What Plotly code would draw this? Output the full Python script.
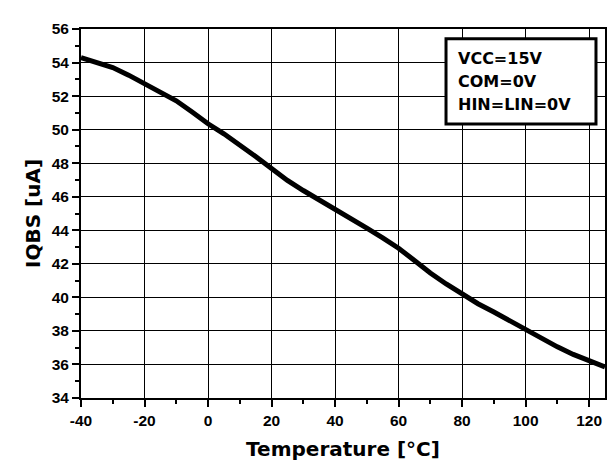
import plotly.graph_objects as go

# Data
temperature_c = [-40, -35, -30, -25, -20, -15, -10, -5, 0, 5, 10, 15, 20, 25, 30, 35, 40,
                 45, 50, 55, 60, 65, 70, 75, 80, 85, 90, 95, 100, 105, 110, 115, 120, 125]
iqbs_ua = [54.30, 54.03, 53.70, 53.25, 52.76, 52.27, 51.72, 51.05, 50.35, 49.75, 49.10,
           48.40, 47.68, 46.97, 46.37, 45.82, 45.30, 44.72, 44.13, 43.55, 42.93, 42.20,
           41.45, 40.80, 40.17, 39.62, 39.13, 38.60, 38.10, 37.55, 37.05, 36.60, 36.22, 35.85]

x_ticks = [-40, -20, 0, 20, 40, 60, 80, 100, 120]
y_ticks = [34, 36, 38, 40, 42, 44, 46, 48, 50, 52, 54, 56]
x_range = [-40, 125]
y_range = [34, 56]

legend_lines = ["VCC=15V", "COM=0V", "HIN=LIN=0V"]

tick_font = dict(family="Liberation Sans, Arial, sans-serif", size=15.5, color="black", weight=700)
title_font = dict(family="DejaVu Sans, sans-serif", size=20, color="black", weight=700)

fig = go.Figure()
fig.add_trace(go.Scatter(
    x=temperature_c, y=iqbs_ua, mode="lines",
    line=dict(color="black", width=5),
    showlegend=False, hoverinfo="skip",
))

axis_common = dict(
    showline=True, linecolor="black", linewidth=2, mirror=True,
    showgrid=True, gridcolor="black", gridwidth=1,
    ticks="outside", ticklen=7, tickwidth=2, tickcolor="black",
    tickfont=tick_font, zeroline=False,
)

fig.update_xaxes(
    range=x_range, tickvals=x_ticks, ticktext=[f"<b>{v}</b>" for v in x_ticks],
    minor=dict(ticks="outside", ticklen=4, tickwidth=2, tickcolor="black", dtick=10, tick0=-40, showgrid=False),
    title=dict(text="<b>Temperature [°C]</b>", font=title_font, standoff=14),
    **axis_common,
)
fig.update_yaxes(
    range=y_range, tickvals=y_ticks, ticktext=[f"<b>{v}</b>" for v in y_ticks],
    minor=dict(ticks="outside", ticklen=4, tickwidth=2, tickcolor="black", dtick=1, tick0=34, showgrid=False),
    title=dict(text="<b>IQBS [uA]</b>", font=title_font, standoff=6),
    **axis_common,
)

# Conditions box
fig.add_shape(type="rect", xref="paper", yref="paper",
              x0=0.6966, x1=0.9828, y0=0.7427, y1=0.9735,
              line=dict(color="black", width=3), fillcolor="white", layer="above")
box_font = dict(family="DejaVu Sans, sans-serif", size=16, color="black", weight=700)
for text, yp in zip(legend_lines, [0.920, 0.857, 0.796]):
    fig.add_annotation(text=f"<b>{text}</b>", xref="paper", yref="paper", x=0.7156, y=yp,
                       xanchor="left", yanchor="middle", showarrow=False, font=box_font, align="left")

fig.update_layout(
    width=616, height=464,
    margin=dict(l=73, r=19, t=13, b=74),
    paper_bgcolor="white", plot_bgcolor="white",
)

fig.write_html("out.html")
